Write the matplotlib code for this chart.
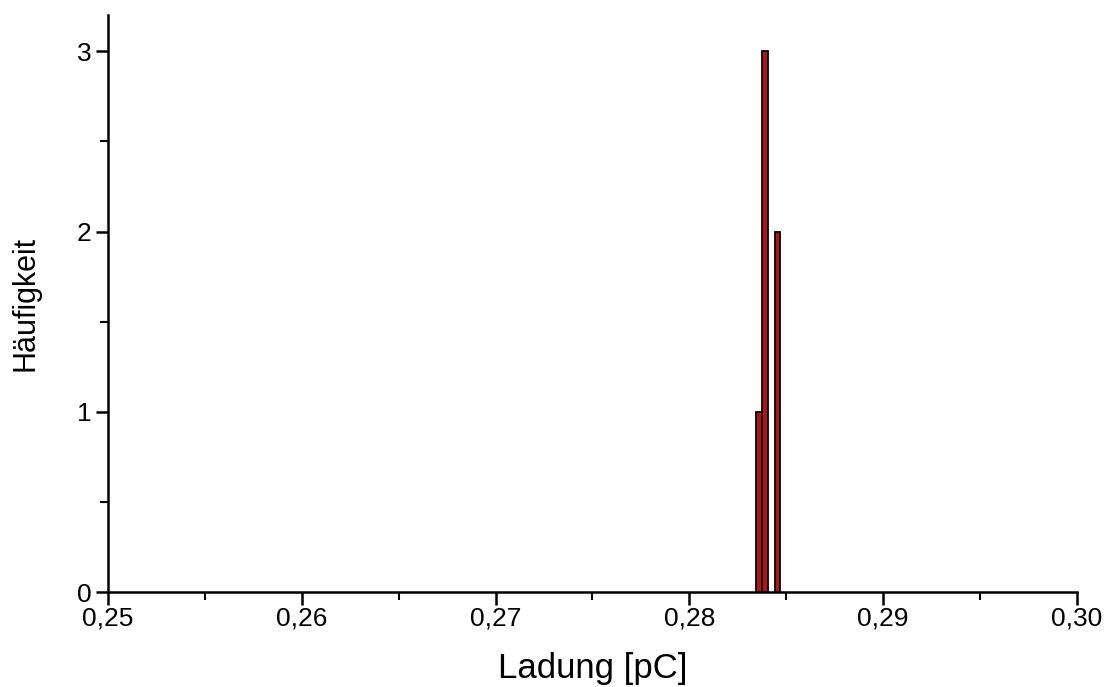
import matplotlib

matplotlib.use("Agg")
import matplotlib.pyplot as plt
from matplotlib.ticker import FuncFormatter, MultipleLocator

# Histogramm der gemessenen Ladungen
bin_mitte = [0.2836, 0.2839, 0.28455]
haeufigkeit = [1, 3, 2]
bin_breite = 0.0003

plt.rcParams["font.family"] = ["Liberation Sans", "DejaVu Sans"]

fig = plt.figure(figsize=(11.12, 6.87), dpi=100)
ax = fig.add_axes([0.097, 0.138, 0.8715, 0.84])

ax.bar(bin_mitte, haeufigkeit, width=bin_breite, color="#B01515",
       edgecolor="black", linewidth=1.3, zorder=3)

ax.set_xlim(0.25, 0.30)
ax.set_ylim(0, 3.2)

ax.xaxis.set_major_locator(MultipleLocator(0.01))
ax.xaxis.set_minor_locator(MultipleLocator(0.005))
ax.yaxis.set_major_locator(MultipleLocator(1))
ax.yaxis.set_minor_locator(MultipleLocator(0.5))
ax.xaxis.set_major_formatter(FuncFormatter(lambda v, p: f"{v:.2f}".replace(".", ",")))
ax.yaxis.set_major_formatter(FuncFormatter(lambda v, p: f"{v:.0f}"))

for s in ["top", "right"]:
    ax.spines[s].set_visible(False)
for s in ["left", "bottom"]:
    ax.spines[s].set_linewidth(1.8)

ax.tick_params(which="major", direction="out", length=9, width=1.8, labelsize=19, pad=3)
ax.tick_params(axis="x", which="major", pad=1)
ax.tick_params(which="minor", direction="out", length=6, width=1.5)

ax.set_xlabel("Ladung [pC]", fontsize=25, labelpad=16)
ax.set_ylabel("Häufigkeit", fontsize=22, labelpad=26)

fig.savefig("out.png", dpi=100)
